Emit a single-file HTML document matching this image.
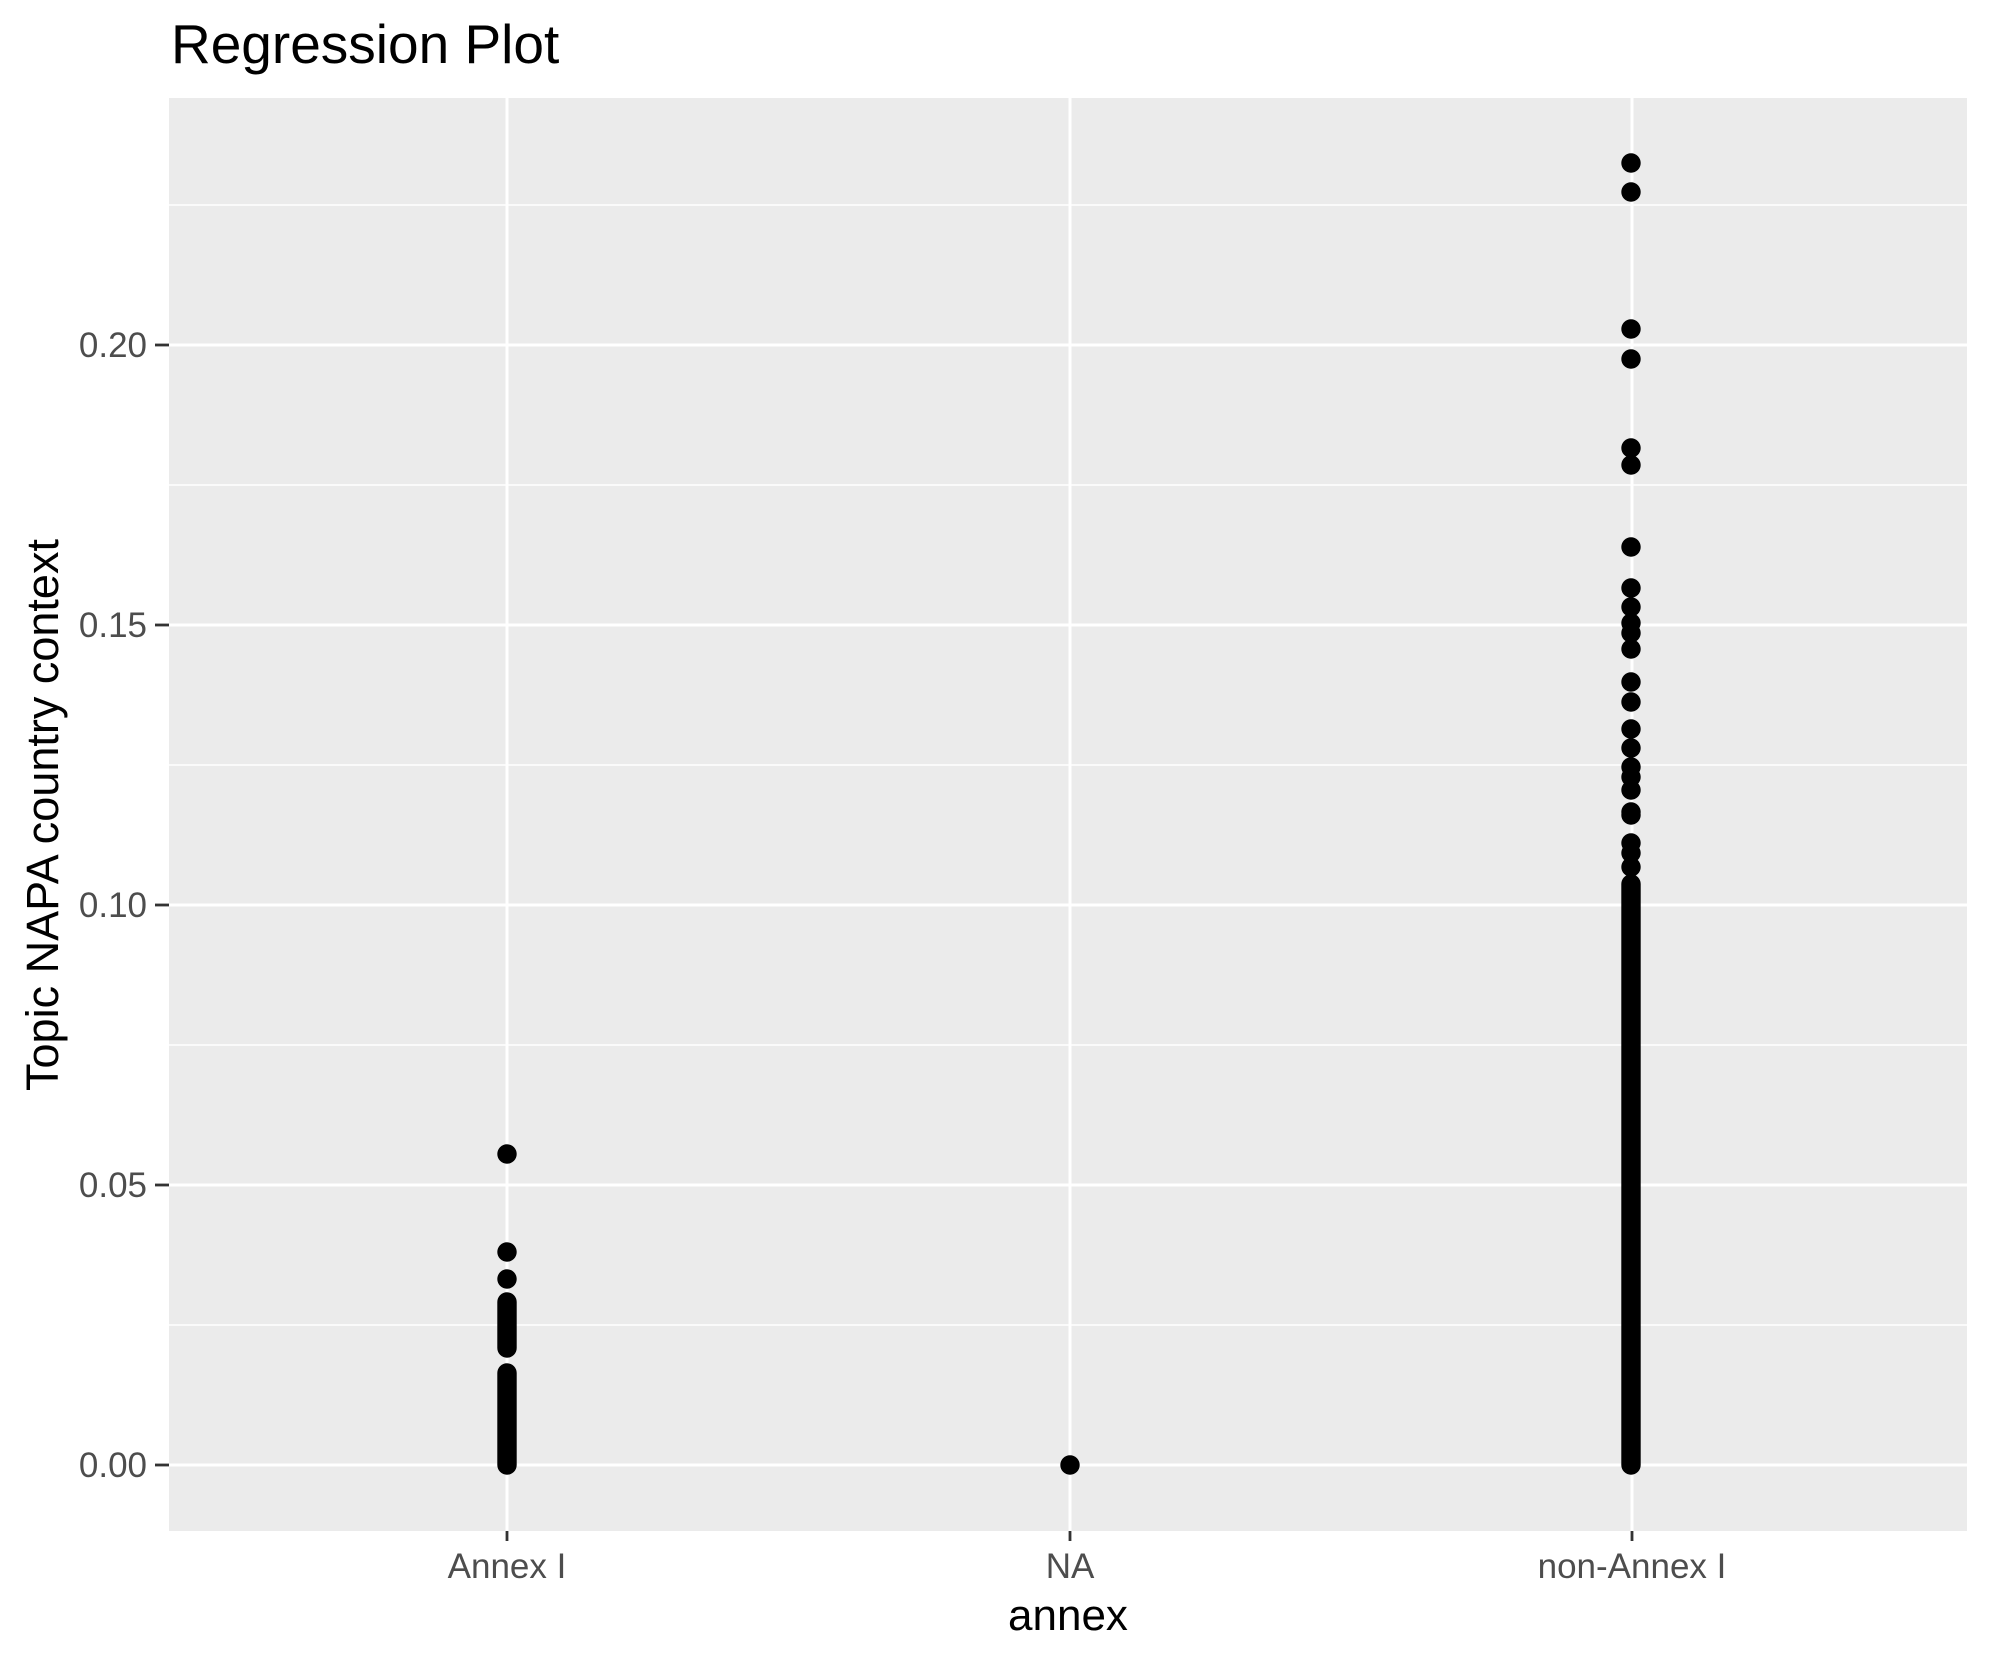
<!DOCTYPE html>
<html><head><meta charset="utf-8"><style>
html,body{margin:0;padding:0;background:#fff}
svg{display:block}
</style></head><body>
<svg width="1990" height="1665" viewBox="0 0 1990 1665" xmlns="http://www.w3.org/2000/svg" font-family="Liberation Sans, Arial, sans-serif">
<rect x="0" y="0" width="1990" height="1665" fill="#fff"/>
<rect x="169" y="98" width="1798" height="1433" fill="#ebebeb"/>
<g stroke="#fff" stroke-width="1.5">
<line x1="169" x2="1967" y1="1325" y2="1325"/>
<line x1="169" x2="1967" y1="1045" y2="1045"/>
<line x1="169" x2="1967" y1="765" y2="765"/>
<line x1="169" x2="1967" y1="485" y2="485"/>
<line x1="169" x2="1967" y1="205" y2="205"/>
</g>
<g stroke="#fff" stroke-width="3">
<line x1="169" x2="1967" y1="1465" y2="1465"/>
<line x1="169" x2="1967" y1="1185" y2="1185"/>
<line x1="169" x2="1967" y1="905" y2="905"/>
<line x1="169" x2="1967" y1="625" y2="625"/>
<line x1="169" x2="1967" y1="345" y2="345"/>
<line x1="507" x2="507" y1="98" y2="1531"/>
<line x1="1070" x2="1070" y1="98" y2="1531"/>
<line x1="1632" x2="1632" y1="98" y2="1531"/>
</g>
<g fill="#000">
<circle cx="507" cy="1154" r="9.7"/>
<circle cx="507" cy="1252" r="9.7"/>
<circle cx="507" cy="1279" r="9.7"/>
<circle cx="1070" cy="1465" r="9.7"/>
<circle cx="1631" cy="163" r="9.7"/>
<circle cx="1631" cy="192" r="9.7"/>
<circle cx="1631" cy="329" r="9.7"/>
<circle cx="1631" cy="359" r="9.7"/>
<circle cx="1631" cy="448" r="9.7"/>
<circle cx="1631" cy="465" r="9.7"/>
<circle cx="1631" cy="547" r="9.7"/>
<circle cx="1631" cy="588" r="9.7"/>
<circle cx="1631" cy="607" r="9.7"/>
<circle cx="1631" cy="623" r="9.7"/>
<circle cx="1631" cy="633" r="9.7"/>
<circle cx="1631" cy="649" r="9.7"/>
<circle cx="1631" cy="682" r="9.7"/>
<circle cx="1631" cy="702" r="9.7"/>
<circle cx="1631" cy="729" r="9.7"/>
<circle cx="1631" cy="748" r="9.7"/>
<circle cx="1631" cy="767" r="9.7"/>
<circle cx="1631" cy="777" r="9.7"/>
<circle cx="1631" cy="790" r="9.7"/>
<circle cx="1631" cy="812" r="9.7"/>
<circle cx="1631" cy="815" r="9.7"/>
<circle cx="1631" cy="843" r="9.7"/>
<circle cx="1631" cy="853" r="9.7"/>
<circle cx="1631" cy="867" r="9.7"/>
</g>
<g stroke="#000" stroke-width="19.4" stroke-linecap="round">
<line x1="507" x2="507" y1="1302" y2="1348"/>
<line x1="507" x2="507" y1="1373" y2="1465"/>
<line x1="1631" x2="1631" y1="884" y2="1465"/>
</g>
<g stroke="#333" stroke-width="2.8">
<line x1="155" x2="169" y1="1465" y2="1465"/>
<line x1="155" x2="169" y1="1185" y2="1185"/>
<line x1="155" x2="169" y1="905" y2="905"/>
<line x1="155" x2="169" y1="625" y2="625"/>
<line x1="155" x2="169" y1="345" y2="345"/>
<line x1="507" x2="507" y1="1531" y2="1541"/>
<line x1="1070" x2="1070" y1="1531" y2="1541"/>
<line x1="1632" x2="1632" y1="1531" y2="1541"/>
</g>
<g fill="#4d4d4d" font-size="35" text-anchor="end">
<text x="147" y="1477">0.00</text>
<text x="147" y="1197">0.05</text>
<text x="147" y="917">0.10</text>
<text x="147" y="637">0.15</text>
<text x="147" y="357">0.20</text>
</g>
<g fill="#4d4d4d" font-size="35" text-anchor="middle">
<text x="507" y="1578">Annex I</text>
<text x="1070" y="1578">NA</text>
<text x="1632" y="1578">non-Annex I</text>
</g>
<text x="1068" y="1630" font-size="44" text-anchor="middle" fill="#000">annex</text>
<text transform="translate(58,815) rotate(-90)" font-size="45" text-anchor="middle" fill="#000">Topic NAPA country context</text>
<text x="171" y="63" font-size="55" fill="#000">Regression Plot</text>
</svg>
</body></html>
